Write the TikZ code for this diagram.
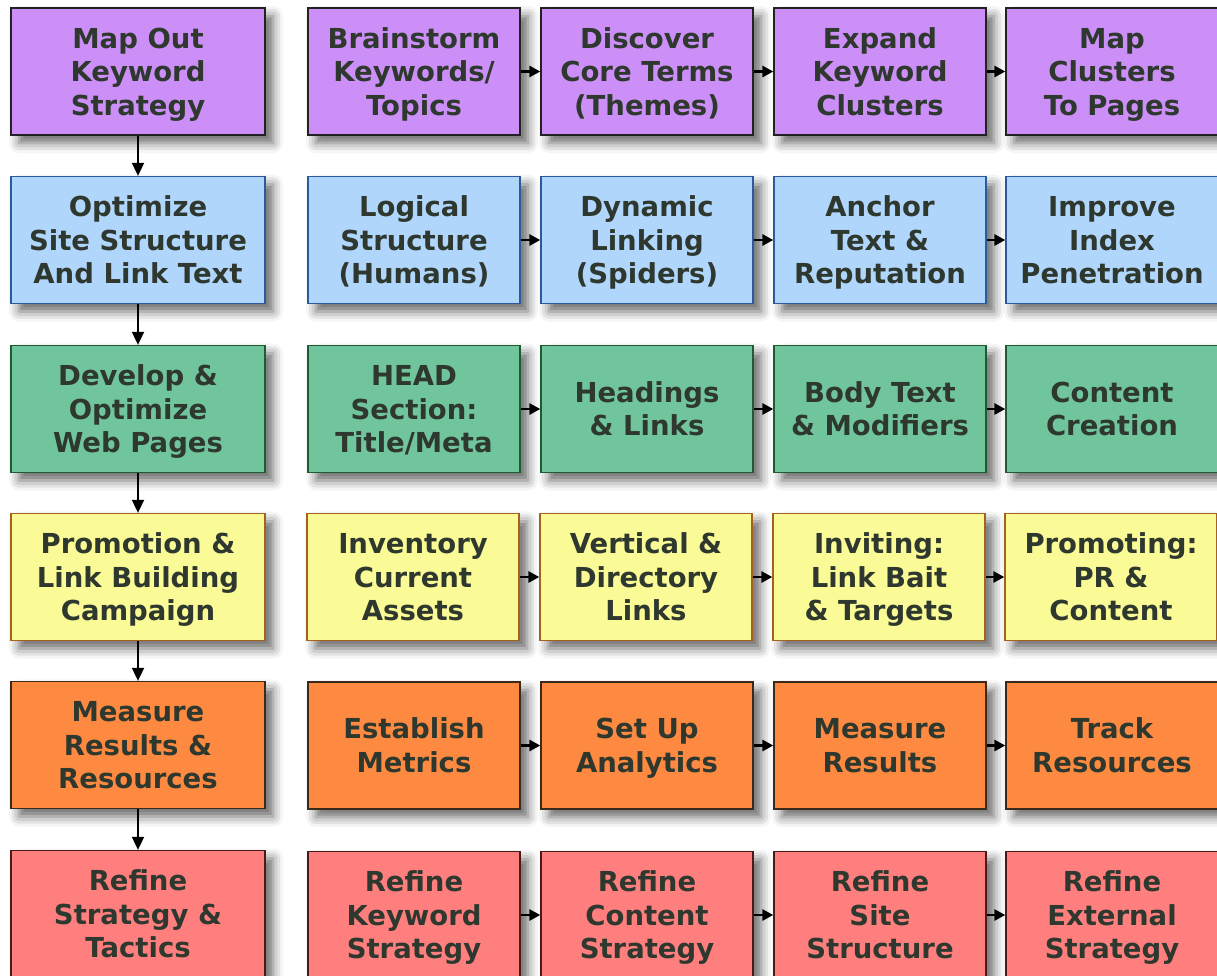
\documentclass[tikz,border=0pt]{standalone}
\usepackage{fontspec}
\setmainfont{DejaVu Sans}
\usetikzlibrary{shadows.blur,arrows.meta}
\definecolor{txt}{HTML}{2E382E}
\definecolor{fpur}{HTML}{CC8FF8}
\definecolor{dpur}{HTML}{222222}
\definecolor{fblu}{HTML}{B0D6FC}
\definecolor{dblu}{HTML}{2A5A9A}
\definecolor{fgrn}{HTML}{70C59C}
\definecolor{dgrn}{HTML}{1E5A32}
\definecolor{fyel}{HTML}{FAFA96}
\definecolor{dyel}{HTML}{A5621E}
\definecolor{forg}{HTML}{FD8A40}
\definecolor{dorg}{HTML}{3A2A1A}
\definecolor{fpnk}{HTML}{FF7F7F}
\definecolor{dpnk}{HTML}{4A1A1A}
\tikzset{
  box/.style={rectangle, line width=1.3pt, minimum height=127pt, inner sep=0pt,
    blur shadow={shadow xshift=8pt, shadow yshift=-8pt, shadow blur radius=10pt, shadow opacity=60}},
  lbl/.style={inner sep=0pt, align=center, text=txt, font=\fontsize{27.5}{33.5}\selectfont\bfseries},
  wide/.style={minimum width=254pt},
  narrow/.style={minimum width=212pt},
  purbox/.style={box, fill=fpur, draw=dpur},
  blubox/.style={box, fill=fblu, draw=dblu},
  grnbox/.style={box, fill=fgrn, draw=dgrn},
  yelbox/.style={box, fill=fyel, draw=dyel},
  orgbox/.style={box, fill=forg, draw=dorg},
  pnkbox/.style={box, fill=fpnk, draw=dpnk},
  harrow/.style={line width=2.8pt, -{Triangle[length=11pt,width=11pt]}},
  varrow/.style={line width=1.8pt, -{Triangle[length=13pt,width=12pt]}}
}
\newcommand\mybox[4]{%
  \node[#1] (#2) at (#3) {};
  \node[lbl] (#2t) at ([yshift=-3.5pt]#2.center) {\strut #4\strut};}
\begin{document}
\begin{tikzpicture}[x=1pt,y=-1pt]
\useasboundingbox (0,0) rectangle (1217,975);
\begin{scope}
\clip (0,0) rectangle (1217,975);
% Row 1
\mybox{purbox,wide}{r1c1}{138,71.5}{Map Out\\Keyword\\Strategy}
\mybox{purbox,narrow}{r1c2}{414,71.5}{Brainstorm\\Keywords/\\Topics}
\mybox{purbox,narrow}{r1c3}{647,71.5}{Discover\\Core Terms\\(Themes)}
\mybox{purbox,narrow}{r1c4}{880,71.5}{Expand\\Keyword\\Clusters}
\mybox{purbox,narrow}{r1c5}{1112,71.5}{Map\\Clusters\\To Pages}
% Row 2
\mybox{blubox,wide}{r2c1}{138,240}{Optimize\\Site Structure\\And Link Text}
\mybox{blubox,narrow}{r2c2}{414,240}{Logical\\Structure\\(Humans)}
\mybox{blubox,narrow}{r2c3}{647,240}{Dynamic\\Linking\\(Spiders)}
\mybox{blubox,narrow}{r2c4}{880,240}{Anchor\\Text \&\\Reputation}
\mybox{blubox,narrow}{r2c5}{1112,240}{Improve\\Index\\Penetration}
% Row 3
\mybox{grnbox,wide}{r3c1}{138,409}{Develop \&\\Optimize\\Web Pages}
\mybox{grnbox,narrow}{r3c2}{414,409}{HEAD\\Section:\\Title/Meta}
\mybox{grnbox,narrow}{r3c3}{647,409}{Headings\\\& Links}
\mybox{grnbox,narrow}{r3c4}{880,409}{Body Text\\\& Modifiers}
\mybox{grnbox,narrow}{r3c5}{1112,409}{Content\\Creation}
% Row 4
\mybox{yelbox,wide}{r4c1}{138,577}{Promotion \&\\Link Building\\Campaign}
\mybox{yelbox,narrow}{r4c2}{413,577}{Inventory\\Current\\Assets}
\mybox{yelbox,narrow}{r4c3}{646,577}{Vertical \&\\Directory\\Links}
\mybox{yelbox,narrow}{r4c4}{879,577}{Inviting:\\Link Bait\\\& Targets}
\mybox{yelbox,narrow}{r4c5}{1111,577}{Promoting:\\PR \&\\Content}
% Row 5
\mybox{orgbox,wide}{r5c1}{138,745}{Measure\\Results \&\\Resources}
\mybox{orgbox,narrow}{r5c2}{414,745.5}{Establish\\Metrics}
\mybox{orgbox,narrow}{r5c3}{647,745.5}{Set Up\\Analytics}
\mybox{orgbox,narrow}{r5c4}{880,745.5}{Measure\\Results}
\mybox{orgbox,narrow}{r5c5}{1112,745.5}{Track\\Resources}
% Row 6
\mybox{pnkbox,wide}{r6c1}{138,914}{Refine\\Strategy \&\\Tactics}
\mybox{pnkbox,narrow}{r6c2}{414,915}{Refine\\Keyword\\Strategy}
\mybox{pnkbox,narrow}{r6c3}{647,915}{Refine\\Content\\Strategy}
\mybox{pnkbox,narrow}{r6c4}{880,915}{Refine\\Site\\Structure}
\mybox{pnkbox,narrow}{r6c5}{1112,915}{Refine\\External\\Strategy}
% vertical arrows
\foreach \a/\b in {1/2,2/3,3/4,4/5,5/6}
  \draw[varrow] (r\a c1.south) -- (r\b c1.north);
% horizontal arrows
\foreach \r in {1,...,6}{
  \draw[harrow] (r\r c2.east) -- (r\r c3.west);
  \draw[harrow] (r\r c3.east) -- (r\r c4.west);
  \draw[harrow] (r\r c4.east) -- (r\r c5.west);
}
\end{scope}
\end{tikzpicture}
\end{document}
